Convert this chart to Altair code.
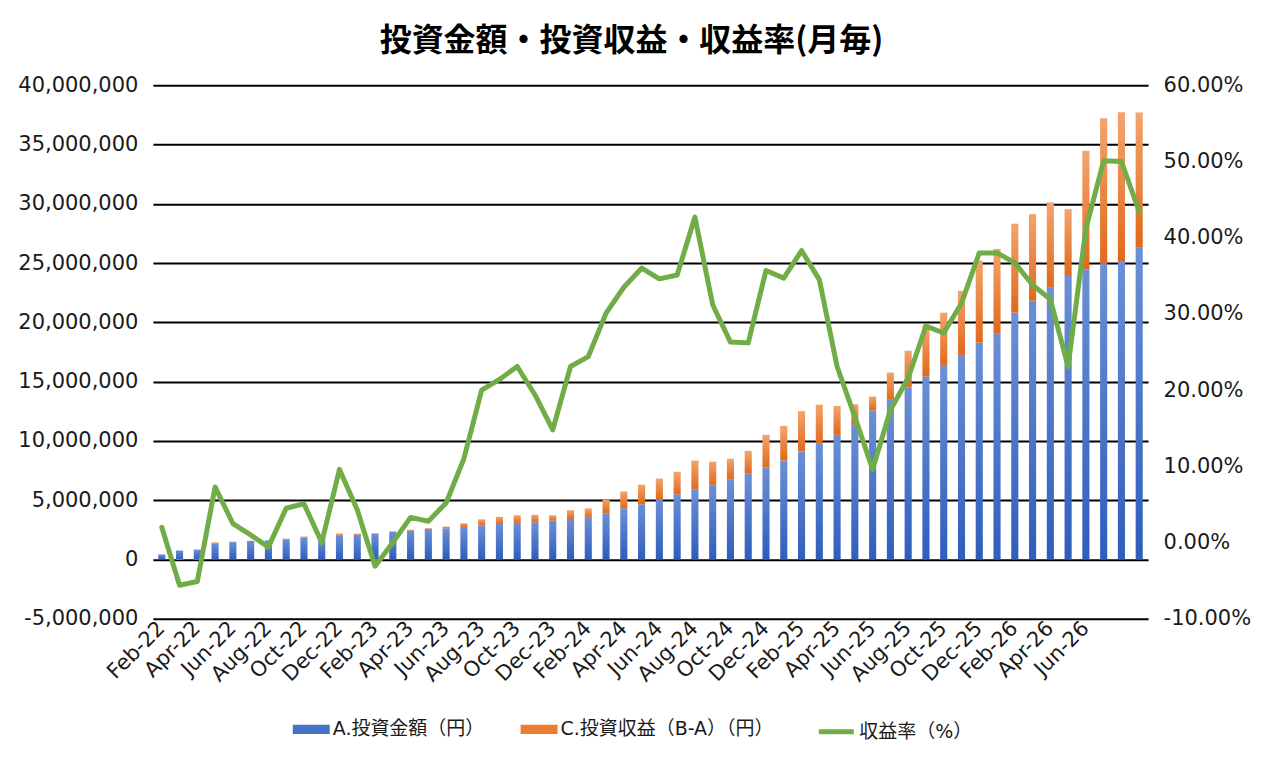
import pandas as pd
import altair as alt

# Feb-22 .. Sep-26 (56 months)
months = pd.date_range("2022-02-01", periods=56, freq="MS").strftime("%b-%y").tolist()

# A. 投資金額 (百万円)
invest = [0.42, 0.76, 0.84, 1.35, 1.47, 1.56, 1.62, 1.69, 1.85, 1.75,
          2.00, 2.10, 2.20, 2.36, 2.44, 2.57, 2.64, 2.75, 2.87, 3.00,
          3.09, 3.14, 3.28, 3.42, 3.51, 3.90, 4.32, 4.66, 5.08, 5.50,
          5.89, 6.31, 6.73, 7.24, 7.76, 8.36, 9.12, 9.76, 10.52, 11.40,
          12.57, 13.47, 14.51, 15.43, 16.33, 17.26, 18.29, 19.08, 20.82, 21.83,
          22.92, 23.99, 24.49, 24.92, 25.17, 26.29]
# C. 投資収益 (百万円)
profit = [0.01, -0.04, -0.04, 0.10, 0.04, 0.02, -0.01, 0.08, 0.09, 0.00,
          0.19, 0.09, -0.07, 0.00, 0.08, 0.07, 0.14, 0.30, 0.52, 0.60,
          0.65, 0.63, 0.45, 0.74, 0.80, 1.15, 1.42, 1.66, 1.75, 1.90,
          2.46, 1.95, 1.77, 1.92, 2.76, 2.91, 3.40, 3.30, 2.44, 1.70,
          1.18, 2.30, 3.10, 4.36, 4.49, 5.40, 6.92, 7.12, 7.50, 7.30,
          7.20, 5.56, 9.98, 12.30, 12.55, 11.42]
# 収益率 (%)
rate = [2.0, -5.6, -5.1, 7.3, 2.5, 1.0, -0.6, 4.5, 5.1, 0.0,
        9.6, 4.3, -3.1, 0.0, 3.3, 2.8, 5.2, 11.0, 20.0, 21.4,
        23.1, 19.4, 14.8, 23.1, 24.4, 30.1, 33.5, 36.0, 34.6, 35.1,
        42.7, 31.2, 26.3, 26.2, 35.7, 34.7, 38.3, 34.5, 23.1, 16.5,
        9.6, 17.4, 21.6, 28.4, 27.5, 31.4, 38.0, 38.0, 36.7, 33.8,
        31.9, 23.1, 41.2, 50.1, 50.0, 43.4]

bar_labels = ["A.投資金額（円）", "C.投資収益（B-A）（円）"]
line_label = "収益率（%）"
left_ticks = [-5e6, 0, 5e6, 1e7, 1.5e7, 2e7, 2.5e7, 3e7, 3.5e7, 4e7]
right_ticks = [-0.1, 0, 0.1, 0.2, 0.3, 0.4, 0.5, 0.6]

FONT = "DejaVu Sans, Noto Sans CJK JP"
TITLE_FONT = "Noto Sans CJK JP"
BLUE, ORANGE, GREEN = "#4472C4", "#ED7D31", "#70AD47"
MINUS = "\u2212"

df = pd.DataFrame({"month": months, "A": invest, "C": profit, "rate": rate}).assign(
    A=lambda x: x["A"] * 1e6,
    C=lambda x: x["C"] * 1e6,
    rate=lambda x: x["rate"] / 100,
    lo=lambda x: x["A"].where(x["C"] >= 0, x["C"]),
    hi=lambda x: (x["A"] + x["C"]).where(x["C"] >= 0, 0),
)

x_enc = alt.X(
    "month:O",
    sort=months,
    title=None,
    scale=alt.Scale(paddingInner=0.6, paddingOuter=0.3),
    axis=alt.Axis(values=months[0:53:2], labelAngle=-45, labelAlign="right",
                  labelBaseline="middle", labelPadding=6, ticks=False, domain=False),
)
y_scale = alt.Scale(domain=[-5e6, 4e7], nice=False, zero=False)


def grad(top, bottom):
    return alt.Gradient(
        gradient="linear",
        stops=[alt.GradientStop(color=top, offset=0), alt.GradientStop(color=bottom, offset=1)],
        x1=0, x2=0, y1=0, y2=1,
    )


base = alt.Chart(df)

blue = base.mark_bar(fill=grad("#6C90D6", "#2E5DBB")).encode(
    x=x_enc,
    y=alt.Y("A:Q", scale=y_scale, title=None,
            axis=alt.Axis(values=left_ticks, grid=True, gridColor="black", gridWidth=2,
                          ticks=False, domain=False, labelPadding=15,
                          labelExpr=f"replace(format(datum.value, ',.0f'), '{MINUS}', '-')")),
)

orange = base.mark_bar(fill=grad("#F3A46E", "#E0691B")).encode(
    x=x_enc,
    y=alt.Y("hi:Q", scale=y_scale),
    y2="lo:Q",
)

legend_bars = (
    alt.Chart(pd.DataFrame({"series": bar_labels}))
    .transform_filter("false")
    .mark_bar()
    .encode(
        color=alt.Color(
            "series:N",
            scale=alt.Scale(domain=bar_labels, range=[BLUE, ORANGE]),
            legend=alt.Legend(
                title=None, orient="none", direction="horizontal", legendX=140, legendY=626,
                symbolType="M-1,-0.25H1V0.25H-1Z", symbolSize=1369, symbolStrokeWidth=0,
                labelFontSize=19, labelOffset=3, columnPadding=36, padding=0, labelLimit=400,
            ),
        )
    )
)

bars = alt.layer(blue, orange, legend_bars)

line = (
    base.transform_calculate(series=f"'{line_label}'")
    .mark_line(strokeWidth=5, strokeJoin="round", strokeCap="round")
    .encode(
        x=x_enc,
        y=alt.Y("rate:Q", title=None,
                scale=alt.Scale(domain=[-0.1, 0.6], nice=False, zero=False),
                axis=alt.Axis(orient="right", values=right_ticks, grid=False,
                              ticks=False, domain=False, labelPadding=15,
                              labelExpr=f"replace(format(datum.value, '.2%'), '{MINUS}', '-')")),
        stroke=alt.Stroke(
            "series:N",
            scale=alt.Scale(domain=[line_label], range=[GREEN]),
            legend=alt.Legend(
                title=None, orient="none", legendX=664, legendY=627,
                symbolType="stroke", symbolSize=1225, symbolStrokeWidth=5,
                labelFontSize=19, labelOffset=3, padding=0, labelLimit=400,
            ),
        ),
    )
)

chart = (
    alt.layer(bars, line)
    .resolve_scale(y="independent")
    .properties(
        width=996,
        height=534,
        autosize=alt.AutoSizeParams(type="none"),
        padding={"left": 145, "top": 77, "right": 110, "bottom": 130},
        title=alt.TitleParams(
            "投資金額・投資収益・収益率(月毎)", font=TITLE_FONT, fontSize=32, fontWeight="bold",
            anchor="middle", dx=-19, offset=16, color="black",
        ),
    )
    .configure_view(stroke=None)
    .configure_axis(labelFont=FONT, labelFontSize=21, labelColor="#1a1a1a")
    .configure_legend(labelFont=FONT, labelColor="#1a1a1a")
)

chart.save("out.html", embed_options={"renderer": "svg", "actions": False})
